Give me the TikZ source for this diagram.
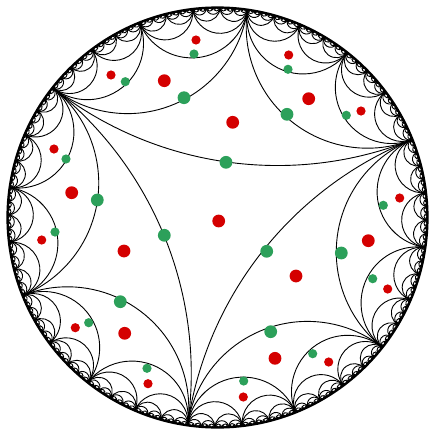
\documentclass[tikz,border=0pt]{standalone}
\usepackage{tikz}
\definecolor{dotred}{HTML}{D40000}
\definecolor{dotgreen}{HTML}{2CA05A}
\begin{document}
\begin{tikzpicture}[
  x=1pt, y=1pt,
  geod/.style={line width=0.9pt, draw=black},
  rim/.style={line width=2.2pt, draw=black},
  redbig/.style={circle, fill=dotred, inner sep=0pt, minimum size=12.8pt},
  redsmall/.style={circle, fill=dotred, inner sep=0pt, minimum size=9.2pt},
  greenbig/.style={circle, fill=dotgreen, inner sep=0pt, minimum size=12.8pt},
  greensmall/.style={circle, fill=dotgreen, inner sep=0pt, minimum size=9.2pt}
]
  \useasboundingbox (-217.5,-214.5) rectangle (215.5,217.5);
  \def\R{210}
  \def\tz{21.8}

  % Geodesics between consecutive ideal vertices, level by level
  \foreach \n in {0,...,7} {
    \pgfmathsetmacro{\dl}{60/2^\n}
    \pgfmathsetmacro{\rr}{\R*tan(\dl)}
    \pgfmathtruncatemacro{\kmax}{3*2^\n-1}
    \foreach \k in {0,...,\kmax} {
      \pgfmathsetmacro{\ang}{\tz+2*\dl*\k}
      \draw[geod] (\ang:\R) arc[start angle=\ang+270, end angle=\ang+2*\dl+90, radius=\rr pt];
    }
  }

  % Boundary circle
  \draw[rim] (0,0) circle (\R pt);

  % Edge points (green)
  \foreach \x/\y [count=\i] in {8.5/55.2, 49.2/-33.8, -53.2/-17.8, -33.5/119.8, 69.5/103.2,
      123.8/-35.5, 53.2/-114.2, -97.2/-84.2, -120.2/17.5} {
    \node[greenbig] (g\i) at (\x,\y) {};
  }
  \foreach \x/\y [count=\i] in {-23.5/163.5, 70.5/148.2, -92.2/135.8, 128.8/102.2, -151.5/58.5,
      165.8/12.2, -162.5/-14.5, 155.2/-61.2, -128.8/-105.2, 95.2/-136.2, -70.5/-150.8, 26.2/-163.5} {
    \node[greensmall] (h\i) at (\x,\y) {};
  }

  % Triangle points (red)
  \foreach \x/\y [count=\i] in {1.2/-3.5, 15.2/95.2, 78.5/-58.5, -93.5/-33.5, -53.2/136.8,
      91.2/118.8, 150.8/-23.2, -145.8/24.8, -92.8/-115.8, 57.5/-140.8} {
    \node[redbig] (r\i) at (\x,\y) {};
  }
  \foreach \x/\y [count=\i] in {-21.5/177.5, 71.2/162.5, -106.5/142.5, 143.5/106.5, -163.5/68.5,
      182.2/19.5, -175.8/-22.5, 170.2/-71.5, -142.2/-110.2, 111.2/-144.5, -69.5/-166.2, 25.8/-179.5} {
    \node[redsmall] (s\i) at (\x,\y) {};
  }
\end{tikzpicture}
\end{document}
